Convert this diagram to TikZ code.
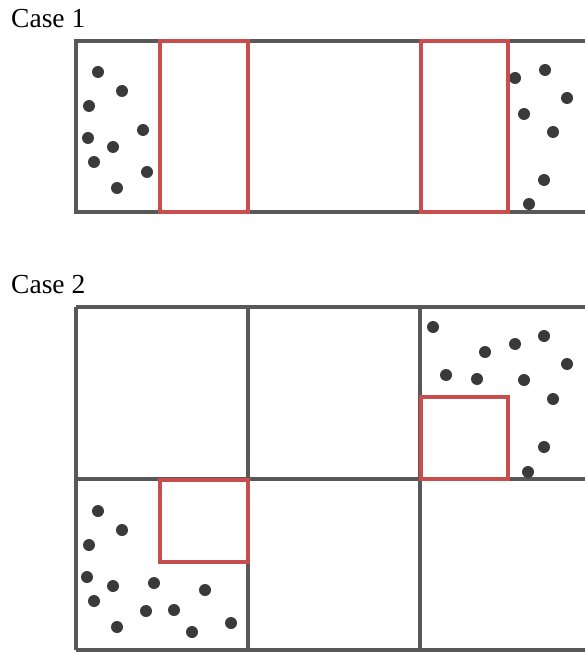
\documentclass[tikz,border=0pt]{standalone}
\usepackage{fontspec}
\setmainfont{Liberation Serif}
\usepackage{tikz}
\usetikzlibrary{positioning}
\definecolor{gridgray}{RGB}{88,88,88}
\definecolor{winred}{RGB}{200,78,78}
\definecolor{dotdark}{RGB}{58,58,58}
\tikzset{
  cell/.style={draw=gridgray, line width=3.1pt},
  window/.style={draw=winred, line width=3.2pt},
  particle/.style={circle, fill=dotdark, inner sep=0pt, minimum size=12pt},
  caselabel/.style={anchor=base west, inner sep=0pt, font=\fontsize{27.5}{32}\selectfont}
}

\begin{document}
\begin{tikzpicture}[x=1pt, y=-1pt]
  \useasboundingbox (0,0) rectangle (585,652);

  % Case 1: one long strip
  \node[caselabel] (lab1) at (11,28) {Case 1};
  \draw[cell] (585,41) -- (76,41) -- (76,212) -- (585,212);

  % Case 1 particles, left end
  \foreach \x/\y [count=\i] in {98/72, 122/91, 89/106, 143/130, 88/138,
      113/147, 94/162, 147/172, 117/188}
    \node[particle] (pa\i) at (\x,\y) {};
  % Case 1 particles, right end
  \foreach \x/\y [count=\i] in {515/78, 545/70, 567/98, 524/114, 553/132,
      544/180, 529/204}
    \node[particle] (pb\i) at (\x,\y) {};

  % Case 1 windows
  \draw[window] (160,41) rectangle (248,212);
  \draw[window] (421,41) rectangle (508,212);

  % Case 2: grid of cells
  \node[caselabel] (lab2) at (11,293) {Case 2};
  \foreach \y in {307, 479, 650}
    \draw[cell] (76,\y) -- (585,\y);
  \foreach \x in {76, 248, 420}
    \draw[cell] (\x,307) -- (\x,650);

  % Case 2 particles, top right cell
  \foreach \x/\y [count=\i] in {433/327, 485/352, 515/344, 544/336, 567/364,
      446/375, 477/379, 524/380, 553/399, 544/447, 528/472}
    \node[particle] (pc\i) at (\x,\y) {};
  % Case 2 particles, bottom left cell
  \foreach \x/\y [count=\i] in {98/511, 122/530, 89/545, 87/577, 113/586,
      154/583, 205/590, 94/601, 146/611, 174/610, 117/627, 192/632, 231/623}
    \node[particle] (pd\i) at (\x,\y) {};

  % Case 2 windows
  \draw[window] (421,397) rectangle (508,479);
  \draw[window] (160,480) rectangle (248,562);
\end{tikzpicture}
\end{document}
